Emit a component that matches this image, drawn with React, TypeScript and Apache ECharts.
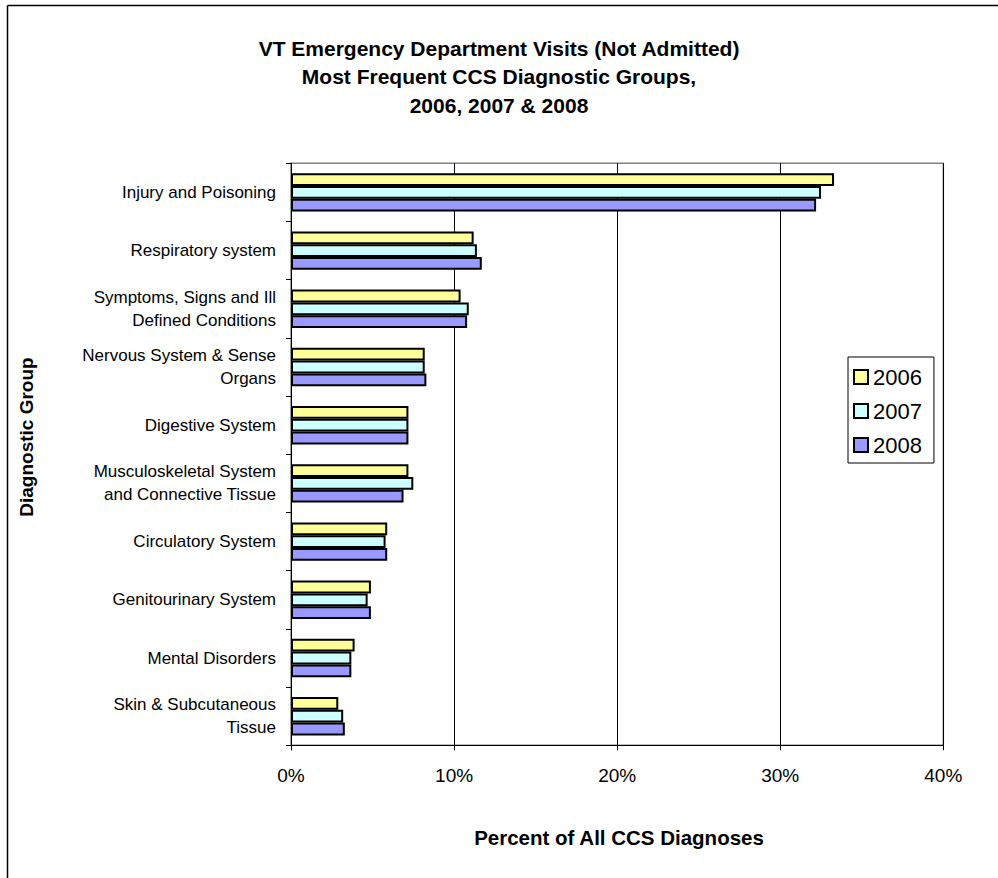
import React, { useEffect, useRef } from "react";
import * as echarts from "echarts";

const categories = [
  "Injury and Poisoning",
  "Respiratory system",
  "Symptoms, Signs and Ill\nDefined Conditions",
  "Nervous System & Sense\nOrgans",
  "Digestive System",
  "Musculoskeletal System\nand Connective Tissue",
  "Circulatory System",
  "Genitourinary System",
  "Mental Disorders",
  "Skin & Subcutaneous\nTissue",
];

const years = ["2006", "2007", "2008"];
const values2006 = [33.3, 11.2, 10.4, 8.2, 7.2, 7.2, 5.9, 4.9, 3.9, 2.9];
const values2007 = [32.5, 11.4, 10.9, 8.2, 7.2, 7.5, 5.8, 4.7, 3.7, 3.2];
const values2008 = [32.2, 11.7, 10.8, 8.3, 7.2, 6.9, 5.9, 4.9, 3.7, 3.3];
const colors = ["#FFFF99", "#CCFFFF", "#9999FF"];
const xTicks = [0, 10, 20, 30, 40];

const FONT = "Liberation Sans, Arial, sans-serif";

export default function App() {
  const ref = useRef<HTMLDivElement>(null);
  useEffect(() => {
    document.body.style.margin = "0";
    const chart = echarts.init(ref.current!, null, { renderer: "svg" });
    const seriesData = [values2006, values2007, values2008];
    chart.setOption({
      animation: false,
      backgroundColor: "#fff",
      textStyle: { fontFamily: FONT, color: "#000" },
      title: {
        text: "VT Emergency Department Visits (Not Admitted)\nMost Frequent CCS Diagnostic Groups,\n2006, 2007 & 2008",
        left: "center",
        top: 29,
        textStyle: {
          fontSize: 21,
          fontWeight: "bold",
          lineHeight: 28.5,
          color: "#000",
          fontFamily: FONT,
        },
      },
      legend: {
        orient: "vertical",
        left: 848,
        top: 357,
        data: years,
        itemWidth: 14,
        itemHeight: 14,
        itemGap: 12,
        itemTextGap: 5,
        padding: [9, 12, 7, 5],
        backgroundColor: "#fff",
        borderColor: "#000",
        borderWidth: 1,
        textStyle: { fontSize: 22, color: "#000", fontFamily: FONT },
        icon: "rect",
      },
      grid: { left: 291, top: 163.3, right: 54.7, bottom: 132.7, show: true, borderColor: "#808080", borderWidth: 1.5 },
      xAxis: {
        type: "value",
        min: 0,
        max: 40,
        interval: 10,
        axisLine: { show: true, lineStyle: { color: "#000", width: 1 } },
        axisTick: { show: true, length: 5, lineStyle: { color: "#000" } },
        axisLabel: {
          fontSize: 19,
          color: "#000",
          margin: 21,
          formatter: (v: number) => (xTicks.includes(v) ? v + "%" : ""),
        },
        splitLine: { show: true, lineStyle: { color: "#000", width: 1 } },
      },
      yAxis: {
        type: "category",
        inverse: true,
        data: categories,
        axisLine: { show: true, lineStyle: { color: "#000", width: 1 } },
        axisTick: { show: true, length: 5, lineStyle: { color: "#000" } },
        axisLabel: { fontSize: 17, color: "#000", margin: 15, lineHeight: 23, align: "right" },
      },
      series: years.map((y, i) => ({
        name: y,
        type: "bar",
        data: seriesData[i],
        barGap: "0%",
        barCategoryGap: "34%",
        itemStyle: { color: colors[i], borderColor: "#000", borderWidth: 2 },
      })),
      graphic: [
        { type: "line", shape: { x1: 7.5, y1: 5.5, x2: 998, y2: 5.5 }, style: { stroke: "#000", lineWidth: 1.5 } },
        { type: "line", shape: { x1: 7.5, y1: 5.5, x2: 7.5, y2: 878 }, style: { stroke: "#000", lineWidth: 1.5 } },
        {
          type: "text",
          x: 619,
          y: 837,
          style: {
            text: "Percent of All CCS Diagnoses",
            font: "bold 20.5px " + FONT,
            fill: "#000",
            align: "center",
            verticalAlign: "middle",
          },
        },
        {
          type: "text",
          x: 26,
          y: 437,
          rotation: Math.PI / 2,
          style: {
            text: "Diagnostic Group",
            font: "bold 19px " + FONT,
            fill: "#000",
            align: "center",
            verticalAlign: "middle",
          },
        },
      ],
    });
    return () => chart.dispose();
  }, []);
  return <div ref={ref} style={{ width: 998, height: 878 }} />;
}
